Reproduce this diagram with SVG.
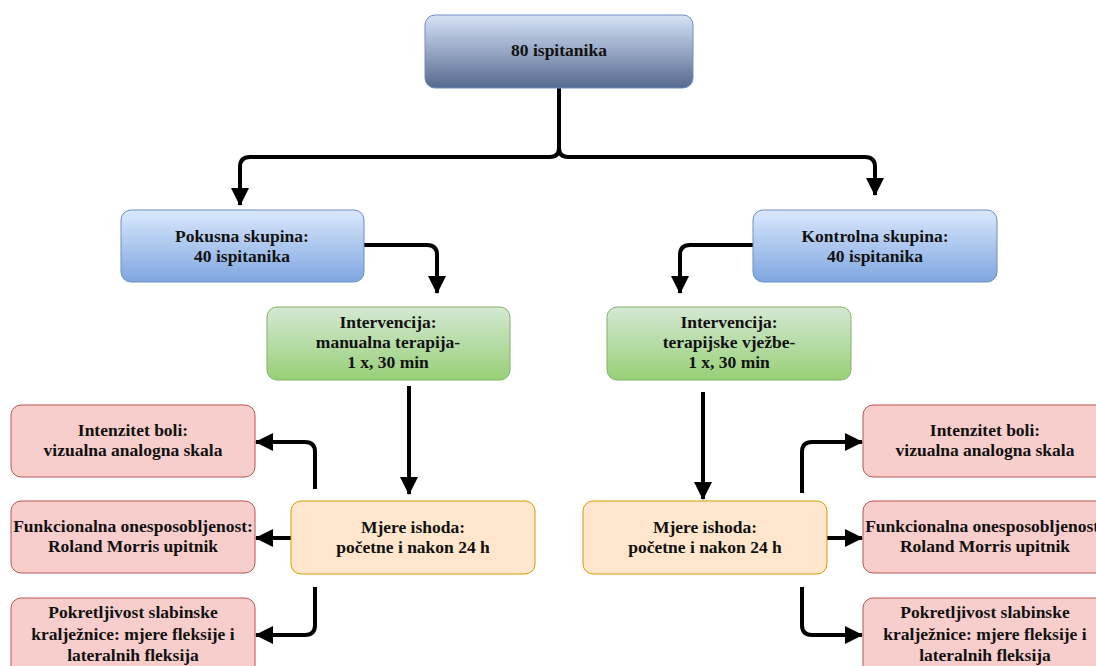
<svg xmlns="http://www.w3.org/2000/svg" width="1096" height="666" viewBox="0 0 1096 666">
<style>
text{font-weight:bold;font-size:17.5px;fill:#111;text-anchor:middle}
.c{fill:none;stroke:#000;stroke-width:4;stroke-linejoin:round}
.blue{stroke:#6c8ebf;stroke-width:1}
.green{stroke:#82b366;stroke-width:1}
.orange{fill:#ffe6cc;stroke:#d79b00;stroke-width:1}
.red{fill:#f8cecc;stroke:#b85450;stroke-width:1}
</style>
<defs>
<linearGradient id="gTop" x1="0" y1="0" x2="0" y2="1"><stop offset="0" stop-color="#d6e3f7"/><stop offset="1" stop-color="#56698f"/></linearGradient>
<linearGradient id="gBlue" x1="0" y1="0" x2="0" y2="1"><stop offset="0" stop-color="#dae8fc"/><stop offset="1" stop-color="#7ea6e0"/></linearGradient>
<linearGradient id="gGreen" x1="0" y1="0" x2="0" y2="1"><stop offset="0" stop-color="#d5e8d4"/><stop offset="1" stop-color="#97d077"/></linearGradient>
<marker id="ah" markerUnits="userSpaceOnUse" markerWidth="20" markerHeight="20" refX="17" refY="9" orient="auto"><path d="M0,0 L18,9 L0,18 z" fill="#000"/></marker>
</defs>
<g id="connectors">
<path class="c" d="M559,88 V148 Q559,157 550,157 H250 Q240,157 240,167 V205" marker-end="url(#ah)"/>
<path class="c" d="M559,148 Q559,157 568,157 H865 Q875,157 875,167 V195" marker-end="url(#ah)"/>
<path class="c" d="M364,245 H427 Q437,245 437,255 V293" marker-end="url(#ah)"/>
<path class="c" d="M753,245 H690 Q680,245 680,255 V293" marker-end="url(#ah)"/>
<path class="c" d="M409,386 V494" marker-end="url(#ah)"/>
<path class="c" d="M703,392 V499" marker-end="url(#ah)"/>
<path class="c" d="M315,489 V452 Q315,442 305,442 H256" marker-end="url(#ah)"/>
<path class="c" d="M291,538 H256" marker-end="url(#ah)"/>
<path class="c" d="M315,587 V625 Q315,635 305,635 H256" marker-end="url(#ah)"/>
<path class="c" d="M802,493 V452 Q802,442 812,442 H862" marker-end="url(#ah)"/>
<path class="c" d="M827,538 H862" marker-end="url(#ah)"/>
<path class="c" d="M802,587 V625 Q802,635 812,635 H862" marker-end="url(#ah)"/>
</g>
<g font-family="'Liberation Serif', 'DejaVu Serif', 'Times New Roman', serif">
<g id="n80">
<rect x="425" y="15" width="268" height="73" rx="10" fill="url(#gTop)" class="blue"/>
<text x="559" y="56">80 ispitanika</text>
</g>
<g id="pokusna">
<rect x="121" y="210" width="243" height="72" rx="10" fill="url(#gBlue)" class="blue"/>
<text x="242" y="242">Pokusna skupina:</text>
<text x="242" y="262">40 ispitanika</text>
</g>
<g id="kontrolna">
<rect x="753" y="210" width="244" height="72" rx="10" fill="url(#gBlue)" class="blue"/>
<text x="875" y="242">Kontrolna skupina:</text>
<text x="875" y="262">40 ispitanika</text>
</g>
<g id="intLeft">
<rect x="267" y="307" width="243" height="73" rx="10" fill="url(#gGreen)" class="green"/>
<text x="388" y="328">Intervencija:</text>
<text x="388" y="348">manualna terapija-</text>
<text x="388" y="368">1 x, 30 min</text>
</g>
<g id="intRight">
<rect x="607" y="307" width="244" height="73" rx="10" fill="url(#gGreen)" class="green"/>
<text x="729" y="328">Intervencija:</text>
<text x="729" y="348">terapijske vježbe-</text>
<text x="729" y="368">1 x, 30 min</text>
</g>
<g id="mjereLeft">
<rect x="291" y="501" width="244" height="73" rx="10" class="orange"/>
<text x="413" y="533">Mjere ishoda:</text>
<text x="413" y="553">početne i nakon 24 h</text>
</g>
<g id="mjereRight">
<rect x="583" y="501" width="244" height="73" rx="10" class="orange"/>
<text x="705" y="533">Mjere ishoda:</text>
<text x="705" y="553">početne i nakon 24 h</text>
</g>
<g id="l1">
<rect x="11" y="405" width="244" height="72" rx="10" class="red"/>
<text x="133" y="436">Intenzitet boli:</text>
<text x="133" y="456">vizualna analogna skala</text>
</g>
<g id="l2">
<rect x="11" y="501" width="244" height="72" rx="10" class="red"/>
<text x="133" y="532">Funkcionalna onesposobljenost:</text>
<text x="133" y="552">Roland Morris upitnik</text>
</g>
<g id="l3">
<rect x="11" y="598" width="244" height="80" rx="10" class="red"/>
<text x="133" y="618">Pokretljivost slabinske</text>
<text x="133" y="640">kralježnice: mjere fleksije i</text>
<text x="133" y="661">lateralnih fleksija</text>
</g>
<g id="r1">
<rect x="863" y="405" width="244" height="72" rx="10" class="red"/>
<text x="985" y="436">Intenzitet boli:</text>
<text x="985" y="456">vizualna analogna skala</text>
</g>
<g id="r2">
<rect x="863" y="501" width="244" height="72" rx="10" class="red"/>
<text x="985" y="532">Funkcionalna onesposobljenost:</text>
<text x="985" y="552">Roland Morris upitnik</text>
</g>
<g id="r3">
<rect x="863" y="598" width="244" height="80" rx="10" class="red"/>
<text x="985" y="618">Pokretljivost slabinske</text>
<text x="985" y="640">kralježnice: mjere fleksije i</text>
<text x="985" y="661">lateralnih fleksija</text>
</g>
</g>
</svg>
